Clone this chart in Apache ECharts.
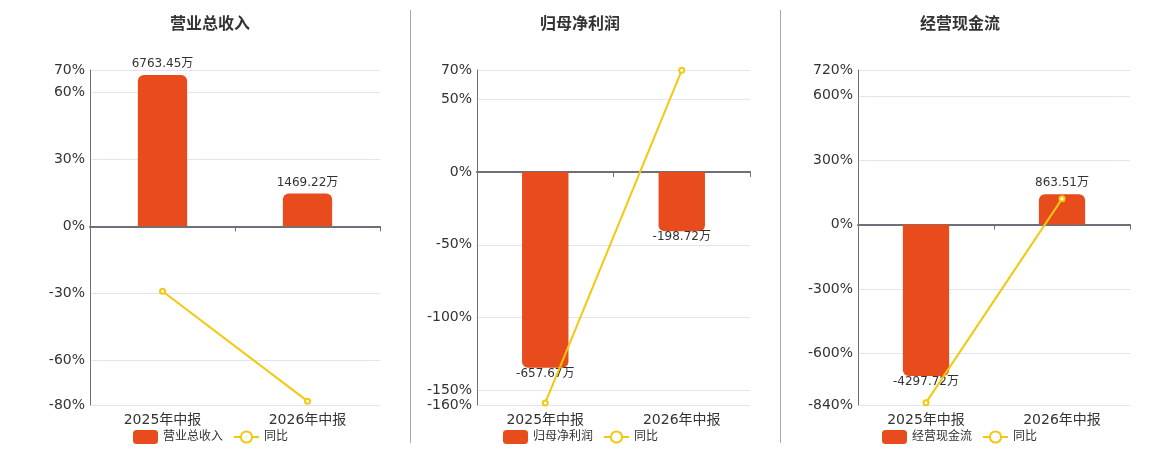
<!DOCTYPE html>
<html>
<head>
<meta charset="utf-8">
<title>财务指标</title>
<script src="https://cdn.jsdelivr.net/npm/echarts@6/dist/echarts.min.js"></script>
<style>
  html, body { margin: 0; padding: 0; background: #fff; }
  #main { width: 1160px; height: 450px; }
</style>
</head>
<body>
<div id="main"></div>
<script>
// 报告期
var categories = ['2025年中报', '2026年中报'];

// 营业总收入（万）及同比（%）
var revenue = [6763.45, 1469.22];
var revenueYoy = [-29.1, -78.28];
var revenueTicks = [-80, -60, -30, 0, 30, 60, 70];

// 归母净利润
var netProfit = [-657.67, -198.72];
var netProfitYoy = [-158.6, 69.78];
var netProfitTicks = [-160, -150, -100, -50, 0, 50, 70];

// 经营现金流
var cashFlow = [-4297.72, 863.51];
var cashFlowYoy = [-829, 120.09];
var cashFlowTicks = [-840, -600, -300, 0, 300, 600, 720];

var barColor = '#E84C1C';
var lineColor = '#F2C811';
var fontFamily = "'DejaVu Sans', 'Noto Sans CJK SC', sans-serif";

var panels = [
  { title: '营业总收入', bars: revenue, yoy: revenueYoy, ticks: revenueTicks,
    left: 90, width: 290, center: 205, legendLeft: 128, barMin: -7989, barMax: 6990 },
  { title: '归母净利润', bars: netProfit, yoy: netProfitYoy, ticks: netProfitTicks,
    left: 477, width: 273, center: 575, legendLeft: 498, barMin: -783, barMax: 343 },
  { title: '经营现金流', bars: cashFlow, yoy: cashFlowYoy, ticks: cashFlowTicks,
    left: 858, width: 272, center: 955, legendLeft: 877, barMin: -5118, barMax: 4387 }
];

var option = {
  animation: false,
  textStyle: { fontFamily: fontFamily },
  title: [], legend: [], grid: [], xAxis: [], yAxis: [], series: [],
  graphic: [
    { type: 'line', shape: { x1: 410.5, y1: 10, x2: 410.5, y2: 443 }, style: { stroke: '#aaa', lineWidth: 1 } },
    { type: 'line', shape: { x1: 780.5, y1: 10, x2: 780.5, y2: 443 }, style: { stroke: '#aaa', lineWidth: 1 } }
  ]
};

panels.forEach(function (p, i) {
  option.title.push({
    text: p.title, left: p.center, top: 12, textAlign: 'center',
    textStyle: { fontSize: 16, fontWeight: 'bold', color: '#333', fontFamily: fontFamily }
  });
  option.legend.push({
    left: p.legendLeft, top: 425, itemWidth: 25, itemHeight: 14, itemGap: 10,
    data: [p.title, '同比'],
    textStyle: { fontSize: 12, color: '#333', fontFamily: fontFamily }
  });
  option.grid.push({ left: p.left, width: p.width, top: 70, height: 335 });

  // 底部标签轴
  option.xAxis.push({
    type: 'category', gridIndex: i, data: categories, position: 'bottom',
    axisLine: { show: false, onZero: false }, axisTick: { show: false },
    axisLabel: { fontSize: 14, color: '#333', margin: 8 }
  });
  // 零线轴
  option.xAxis.push({
    type: 'category', gridIndex: i, data: categories, position: 'bottom',
    axisLine: { show: true, onZero: true, onZeroAxisIndex: i * 2, lineStyle: { color: '#6E7079', width: 2 } },
    axisTick: { show: true, length: 5, lineStyle: { color: '#6E7079' } },
    axisLabel: { show: false }
  });

  var lo = p.ticks[0], hi = p.ticks[p.ticks.length - 1];
  option.yAxis.push({
    type: 'value', gridIndex: i, min: lo, max: hi,
    axisLine: { show: true, lineStyle: { color: '#6E7079' } },
    axisTick: { show: false, customValues: p.ticks },
    axisLabel: {
      fontSize: 14, color: '#333', margin: 5, formatter: '{value}%',
      customValues: p.ticks, showMinLabel: true, showMaxLabel: true, hideOverlap: false
    },
    splitLine: { show: true, lineStyle: { color: '#E0E6F1' } }
  });
  option.yAxis.push({
    type: 'value', gridIndex: i, min: p.barMin, max: p.barMax, show: false,
    splitLine: { show: false }
  });

  option.series.push({
    name: p.title, type: 'bar', xAxisIndex: i * 2, yAxisIndex: i * 2 + 1,
    barWidth: '34%',
    data: p.bars.map(function (v) {
      var neg = v < 0;
      return {
        value: v,
        itemStyle: { borderRadius: neg ? [0, 0, 6, 6] : [6, 6, 0, 0] },
        label: { position: neg ? 'bottom' : 'top', distance: neg ? 0 : 5 }
      };
    }),
    itemStyle: { color: barColor },
    label: { show: true, fontSize: 12, color: '#333', formatter: '{c}万' }
  });
  option.series.push({
    name: '同比', type: 'line', xAxisIndex: i * 2, yAxisIndex: i * 2,
    data: p.yoy, symbol: 'emptyCircle', symbolSize: 5, z: 5,
    itemStyle: { color: lineColor }, lineStyle: { color: lineColor, width: 2 }
  });
});

var chart = echarts.init(document.getElementById('main'));
chart.setOption(option);
window.onresize = chart.resize;
</script>
</body>
</html>
